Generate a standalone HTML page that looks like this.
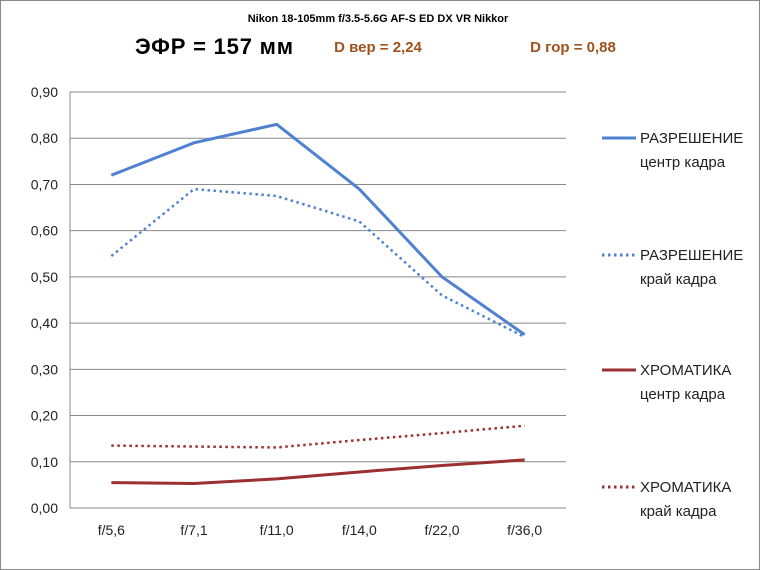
<!DOCTYPE html>
<html><head><meta charset="utf-8"><style>
body{margin:0;background:#fff;}
svg{display:block;font-family:"Liberation Sans","Noto Sans CJK SC",sans-serif;}
</style></head><body>
<svg id="c" width="760" height="570">
<rect x="0.5" y="0.5" width="759" height="569" fill="#fff" stroke="#888"/>
<text x="378" y="22" font-size="11" font-weight="bold" text-anchor="middle">Nikon 18-105mm f/3.5-5.6G AF-S ED DX VR Nikkor</text>
<text x="214" y="54" font-size="22" font-weight="bold" text-anchor="middle" textLength="158">ЭФР = 157 мм</text>
<text x="378" y="52" font-size="15" font-weight="bold" fill="#a0521e" text-anchor="middle">D вер = 2,24</text>
<text x="573" y="52" font-size="15" font-weight="bold" fill="#a0521e" text-anchor="middle">D гор = 0,88</text>
<g id="grid"></g><g id="series"></g><g id="legend"></g>
</svg>
<script>
const categories=["f/5,6","f/7,1","f/11,0","f/14,0","f/22,0","f/36,0"];
const yTicks=[0,0.1,0.2,0.3,0.4,0.5,0.6,0.7,0.8,0.9];
const resCenter=[0.72,0.79,0.83,0.69,0.50,0.375];
const resEdge=[0.545,0.69,0.675,0.62,0.46,0.37];
const chromCenter=[0.055,0.053,0.063,0.078,0.092,0.104];
const chromEdge=[0.135,0.133,0.131,0.147,0.162,0.178];
const NS="http://www.w3.org/2000/svg";
const L=70,R=566,T=92,B=508;
const y=v=>B-(v/0.9)*(B-T);
const x=i=>L+(i+0.5)*(R-L)/categories.length;
function mk(tag,attrs,parent){const e=document.createElementNS(NS,tag);for(const k in attrs)e.setAttribute(k,attrs[k]);parent.appendChild(e);return e;}
const g=document.getElementById('grid');
yTicks.forEach(v=>{
  const ln=mk('line',{x1:L,x2:R,y1:y(v),y2:y(v),stroke:'#888','stroke-width':1},g);
  
  
  const t=mk('text',{x:L-12,y:y(v)+5,'font-size':14,'text-anchor':'end',fill:'#222'},g);
  t.textContent=v.toFixed(2).replace('.',',');
  
  
});
const ax=mk('line',{x1:L,x2:L,y1:T,y2:B,stroke:'#888'},g);


categories.forEach((c,i)=>{
  const t=mk('text',{x:x(i),y:535,'font-size':14,'text-anchor':'middle',fill:'#222'},g);
  t.textContent=c;
  
  
});
const s=document.getElementById('series');
const defs=[
 [resCenter,'#4f81d0','', 'res-center-line'],
 [resEdge,'#4f81d0','2.5,3.5','res-edge-line'],
 [chromCenter,'#9b3030','','chrom-center-line'],
 [chromEdge,'#9b3030','2.5,3.5','chrom-edge-line']];
defs.forEach(([d,col,dash,name])=>{
  const p=mk('polyline',{points:d.map((v,i)=>x(i)+','+y(v)).join(' '),fill:'none',stroke:col,'stroke-width':dash?2.5:3,'stroke-dasharray':dash||'none'},s);
  
  
});
const lg=document.getElementById('legend');
const leg=[['РАЗРЕШЕНИЕ','центр кадра','#4f81d0','',138],['РАЗРЕШЕНИЕ','край кадра','#4f81d0','2.5,3.5',255],['ХРОМАТИКА','центр кадра','#9b3030','',370],['ХРОМАТИКА','край кадра','#9b3030','2.5,3.5',487]];
leg.forEach(([a,b,col,dash,yy])=>{
  const ln=mk('line',{x1:602,x2:636,y1:yy,y2:yy,stroke:col,'stroke-width':3,'stroke-dasharray':dash||'none'},lg);
  
  
  const t1=mk('text',{x:640,y:yy+5,'font-size':15,fill:'#222'},lg);t1.textContent=a;
  
  
  const t2=mk('text',{x:640,y:yy+29,'font-size':15,fill:'#222'},lg);t2.textContent=b;
  
  
});
</script>
</body></html>
